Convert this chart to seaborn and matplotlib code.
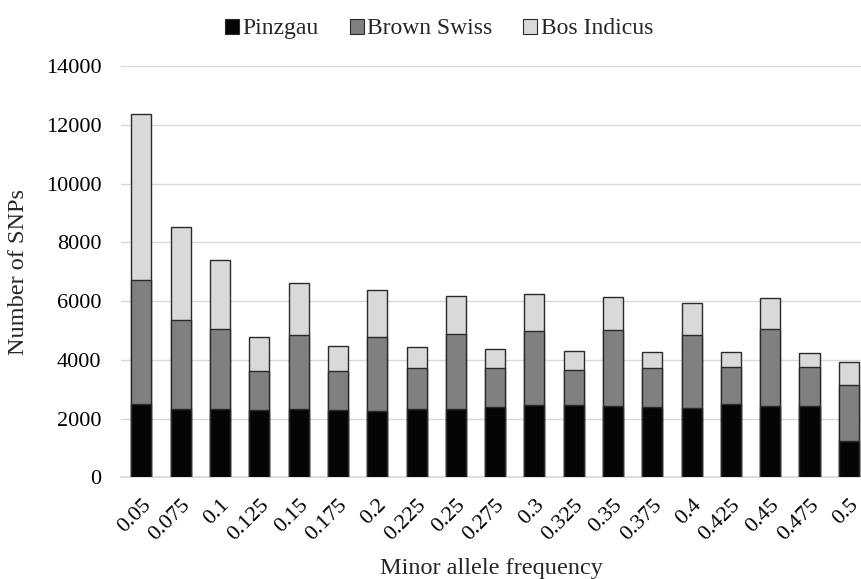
import numpy as np
import pandas as pd
import matplotlib
matplotlib.use("Agg")
import matplotlib.pyplot as plt
import seaborn as sns
from matplotlib.patches import Patch

# =============================================
# 1. DATA
# =============================================
maf = ["0.05", "0.075", "0.1", "0.125", "0.15", "0.175", "0.2", "0.225", "0.25",
       "0.275", "0.3", "0.325", "0.35", "0.375", "0.4", "0.425", "0.45", "0.475", "0.5"]
pinzgau = [2510, 2320, 2340, 2280, 2320, 2280, 2260, 2340, 2340,
           2400, 2460, 2460, 2440, 2400, 2370, 2510, 2440, 2440, 1250]
brown_swiss = [4190, 3030, 2700, 1340, 2540, 1340, 2530, 1380, 2540,
               1320, 2520, 1200, 2570, 1320, 2480, 1250, 2600, 1310, 1890]
bos_indicus = [5670, 3180, 2360, 1170, 1740, 850, 1580, 700, 1300,
               640, 1250, 650, 1130, 550, 1070, 510, 1070, 490, 800]

series = ["Pinzgau", "Brown Swiss", "Bos Indicus"]
colors = ["#050505", "#808080", "#d9d9d9"]

# =============================================
# 2. BUILD TABLE
# =============================================
df = pd.DataFrame({"maf": maf, "Pinzgau": pinzgau,
                   "Brown Swiss": brown_swiss, "Bos Indicus": bos_indicus})
df["lvl1"] = df["Pinzgau"]
df["lvl2"] = df["lvl1"] + df["Brown Swiss"]
df["lvl3"] = df["lvl2"] + df["Bos Indicus"]

# =============================================
# 3. PLOT
# =============================================
sns.set_theme(style="white")
plt.rcParams["font.family"] = ["Liberation Serif", "DejaVu Serif"]

fig = plt.figure(figsize=(8.61, 5.79), dpi=100)
ax = fig.add_axes([121 / 861, (579 - 477.3) / 579, 740 / 861, (477.3 - 66) / 579])

# draw from tallest cumulative level down so stacks show through
for col, color in zip(["lvl3", "lvl2", "lvl1"], colors[::-1]):
    sns.barplot(data=df, x="maf", y=col, color=color, width=0.51,
                edgecolor="#2a2a2a", linewidth=1.0, saturation=1, ax=ax, zorder=3)

ax.set_ylim(0, 14000)
ax.set_xlim(-0.52, 18.31)
ax.set_yticks(np.arange(0, 14001, 2000))
ax.grid(axis="y", color="#d9d9d9", linewidth=1.0, zorder=0)
ax.set_axisbelow(True)
for s in ["top", "right", "left"]:
    ax.spines[s].set_visible(False)
ax.spines["bottom"].set_color("#d9d9d9")

ax.tick_params(axis="both", length=0, labelsize=16, colors="black")
ax.tick_params(axis="y", pad=14)
ax.tick_params(axis="x", pad=13)
plt.setp(ax.get_xticklabels(), rotation=45, ha="right", rotation_mode="anchor")

ax.set_xlabel("Minor allele frequency", fontsize=17.5, labelpad=10)
ax.set_ylabel("Number of SNPs", fontsize=17.5, labelpad=12)

handles = [Patch(facecolor=c, edgecolor="#2a2a2a", linewidth=0.8, label=l)
           for l, c in zip(series, colors)]
fig.legend(handles=handles, loc="upper center", bbox_to_anchor=(0.51, 1.005),
           ncol=3, frameon=False, fontsize=17, handlelength=0.6, handleheight=0.6,
           handletextpad=0.15, columnspacing=1.3)

fig.savefig("out.png", dpi=100)
